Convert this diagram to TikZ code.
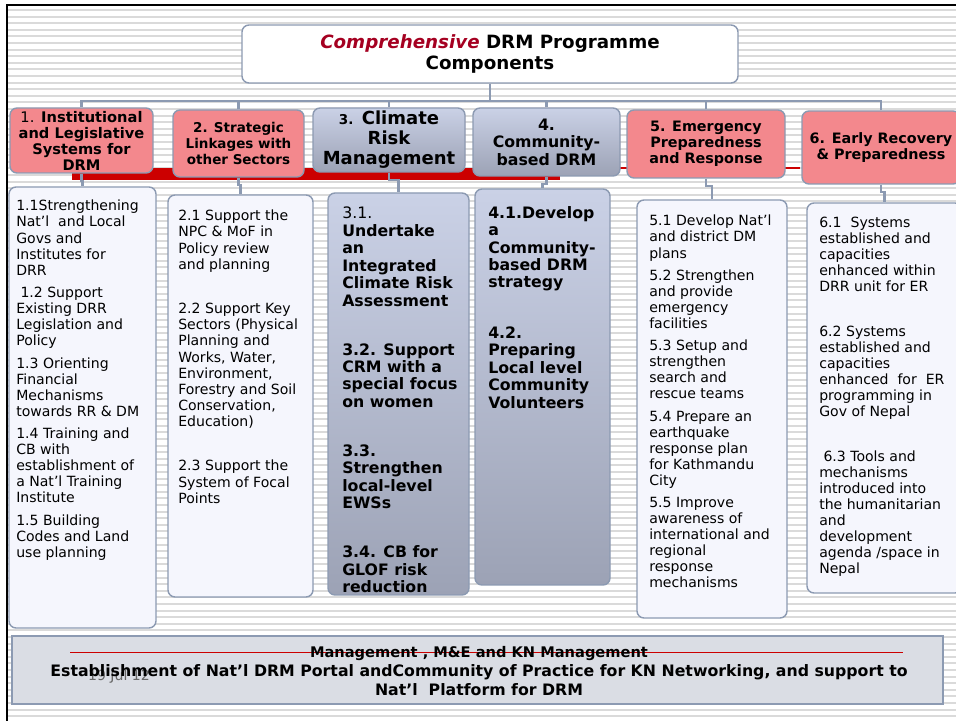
\documentclass[tikz,border=0pt]{standalone}
\usepackage{fontspec}
\setmainfont{DejaVu Sans}
\usetikzlibrary{calc}
\definecolor{DRMPink}{RGB}{243,136,141}
\definecolor{DRMEdge}{RGB}{140,154,178}
\definecolor{DRMPale}{RGB}{245,246,253}
\definecolor{DRMSlateTop}{RGB}{202,209,230}
\definecolor{DRMSlateBot}{RGB}{156,162,181}
\definecolor{DRMMist}{RGB}{218,221,228}
\definecolor{DRMRed}{RGB}{204,0,0}
\definecolor{DRMWine}{RGB}{165,0,33}
\definecolor{DRMStripe}{RGB}{218,218,218}
\def\px{0.025cm}
\tikzset{
  panel/.style={draw=DRMEdge, line width=1pt, rounded corners=5pt, fill=DRMPale},
  slate/.style={top color=DRMSlateTop, bottom color=DRMSlateBot},
  head/.style={panel, fill=DRMPink, align=center, inner sep=0pt, font=\bfseries\fontsize{10.4}{11.4}\selectfont},
  itemtxt/.style={anchor=north west, align=left, inner sep=0pt, font=\fontsize{10}{11.4}\selectfont},
  boldtxt/.style={itemtxt, font=\bfseries\fontsize{11.2}{12.4}\selectfont},
  conn/.style={draw=DRMEdge, line width=1.6pt},
  stripe/.style={draw=DRMStripe, line width=1.4pt}
}
\begin{document}
\begin{tikzpicture}[x=\px, y=-\px]
  \useasboundingbox (0,0) rectangle (956,721);
  \fill[white] (0,0) rectangle (956,721);
  \foreach \y in {10,16.6,...,721} \draw[stripe] (8,\y) -- (956,\y);
  \draw[black, line width=1.5pt] (7,721) -- (7,5) -- (956,5);

  \node[panel, fill=white, minimum width=496*\px, minimum height=58*\px, font=\bfseries\fontsize{13}{15}\selectfont, align=center] (title) at (490,54)
    {{\color{DRMWine}\itshape Comprehensive} DRM Programme\\Components};

  \fill[DRMRed] (72,168) rectangle (560,180);
  \draw[DRMRed, line width=0.8pt] (560,168) -- (800,168);

  \node[head, minimum width=143*\px, minimum height=65*\px] (h1) at (81.5,140.5)
    {{\mdseries 1.} Institutional\\and Legislative\\Systems for\\DRM};
  \node[head, minimum width=131*\px, minimum height=67*\px, font=\bfseries\fontsize{9.6}{11.4}\selectfont] (h2) at (238.5,143.5)
    {2. Strategic\\Linkages with\\other Sectors};
  \node[head, slate, minimum width=152*\px, minimum height=64*\px, font=\bfseries\fontsize{12.8}{14.2}\selectfont] (h3) at (389,140)
    {{\fontsize{9.6}{11}\selectfont 3.} Climate\\Risk\\Management};
  \node[head, slate, minimum width=147*\px, minimum height=68*\px, font=\bfseries\fontsize{11.2}{12.4}\selectfont] (h4) at (546.5,142)
    {4.\\Community-\\based DRM};
  \node[head, minimum width=158*\px, minimum height=68*\px, font=\bfseries\fontsize{10.2}{11.4}\selectfont] (h5) at (706,144)
    {5. Emergency\\Preparedness\\and Response};
  \node[head, minimum width=158*\px, minimum height=73*\px, font=\bfseries\fontsize{10.2}{11.4}\selectfont] (h6) at (881,147.5)
    {6. Early Recovery\\\& Preparedness};

  \draw[conn] (title.south) -- ++(0,17) coordinate (bus);
  \foreach \i in {1,...,6} \draw[conn] (h\i.north) |- (bus);

  \node[panel, minimum width=147*\px, minimum height=441*\px] (b1) at (82.5,407.5) {};
  \node[panel, minimum width=145*\px, minimum height=402*\px] (b2) at (240.5,396) {};
  \node[panel, slate, minimum width=141*\px, minimum height=402*\px] (b3) at (398.5,394) {};
  \node[panel, slate, minimum width=135*\px, minimum height=396*\px] (b4) at (542.5,387) {};
  \node[panel, minimum width=150*\px, minimum height=418*\px] (b5) at (712,409) {};
  \node[panel, minimum width=155*\px, minimum height=390*\px] (b6) at (884.5,398) {};

  \foreach \i in {1,...,6} \draw[conn] (h\i.south) -- ++(0,7) -| (b\i.north);

  \node[itemtxt] (t1) at (16,200)
    {1.1Strengthening\\Nat’l\ \ and Local\\Govs and\\Institutes for\\DRR\\[4.6pt]
     \hspace{3pt}1.2 Support\\Existing DRR\\Legislation and\\Policy\\[4.6pt]
     1.3 Orienting\\Financial\\Mechanisms\\towards RR \& DM\\[4.6pt]
     1.4 Training and\\CB with\\establishment of\\a Nat’l Training\\Institute\\[4.6pt]
     1.5 Building\\Codes and Land\\use planning};
  \node[itemtxt] (t2) at (178,210)
    {2.1 Support the\\NPC \& MoF in\\Policy review\\and planning\\[20.5pt]
     2.2 Support Key\\Sectors (Physical\\Planning and\\Works, Water,\\Environment,\\Forestry and Soil\\Conservation,\\Education)\\[20.5pt]
     2.3 Support the\\System of Focal\\Points};
  \node[boldtxt] (t3) at (342,207)
    {{\mdseries 3.1.}\\Undertake\\an\\Integrated\\Climate Risk\\Assessment\\[22.4pt]
     3.2. Support\\CRM with a\\special focus\\on women\\[22.4pt]
     3.3.\\Strengthen\\local-level\\EWSs\\[22.4pt]
     3.4. CB for\\GLOF risk\\reduction};
  \node[boldtxt] (t4) at (488,206)
    {4.1.Develop\\a\\Community-\\based DRM\\strategy\\[23.5pt]
     4.2.\\Preparing\\Local level\\Community\\Volunteers};
  \node[itemtxt] (t5) at (649,215)
    {5.1 Develop Nat’l\\and district DM\\plans\\[4.5pt]
     5.2 Strengthen\\and provide\\emergency\\facilities\\[4.5pt]
     5.3 Setup and\\strengthen\\search and\\rescue teams\\[4.5pt]
     5.4 Prepare an\\earthquake\\response plan\\for Kathmandu\\City\\[4.5pt]
     5.5 Improve\\awareness of\\international and\\regional\\response\\mechanisms};
  \node[itemtxt] (t6) at (819,217)
    {6.1\ \ Systems\\established and\\capacities\\enhanced within\\DRR unit for ER\\[20.5pt]
     6.2 Systems\\established and\\capacities\\enhanced\ \ for\ \ ER\\programming in\\Gov of Nepal\\[20pt]
     \hspace{3pt}6.3 Tools and\\mechanisms\\introduced into\\the humanitarian\\and\\development\\agenda /space in\\Nepal};

  \node[draw=DRMEdge, line width=0.8pt, fill=DRMMist, minimum width=931*\px, minimum height=68*\px] (base) at (477.5,670) {};
  \draw[DRMRed, line width=0.6pt] (70,652) -- (903,652);
  \node[text=black!60, font=\fontsize{10}{12}\selectfont] (date) at (119,677) {19 Jul 12};
  \node[align=center, inner sep=0pt, font=\bfseries\fontsize{11.2}{13.5}\selectfont] (basetxt) at (479,671)
    {{\fontsize{10.4}{13.5}\selectfont Management , M\&E and KN Management}\\Establishment of Nat’l DRM Portal andCommunity of Practice for KN Networking, and support to\\Nat’l\ \ Platform for DRM};
\end{tikzpicture}
\end{document}
